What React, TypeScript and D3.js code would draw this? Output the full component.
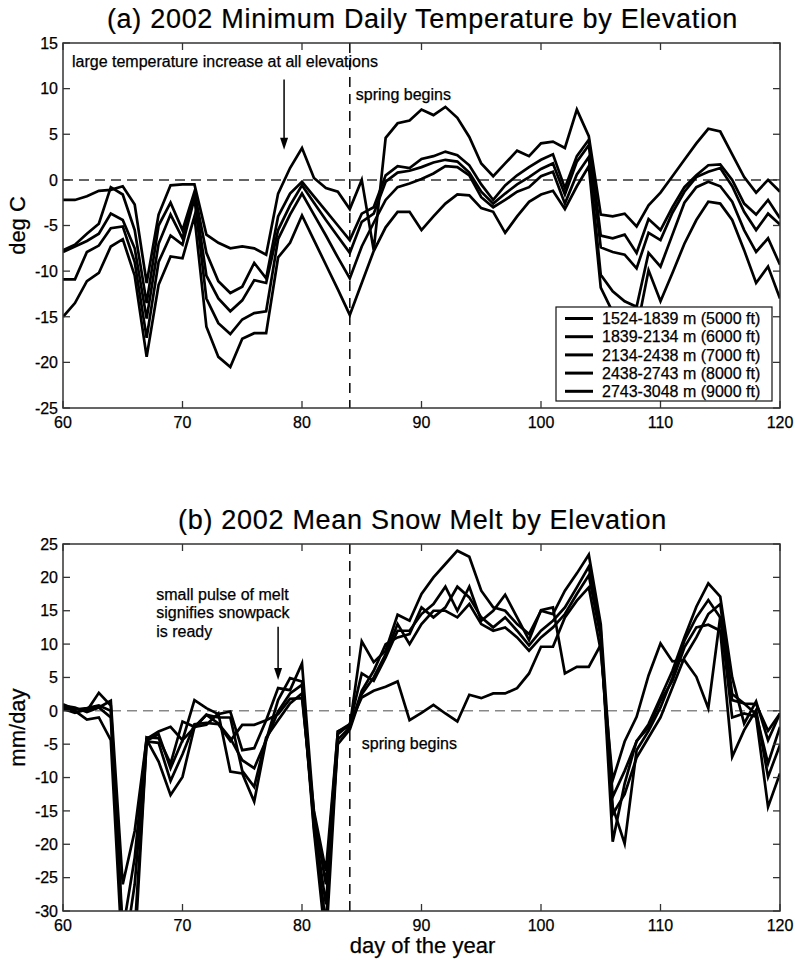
import React from 'react';
import * as d3 from 'd3';

// ---------------- DATA ----------------
const days = d3.range(60, 121); // day of the year 60..120
const xTicks = [60, 70, 80, 90, 100, 110, 120];
const tempTicks = [15, 10, 5, 0, -5, -10, -15, -20, -25];
const meltTicks = [25, 20, 15, 10, 5, 0, -5, -10, -15, -20, -25, -30];
const springDay = 84;

const elevationLabels = [
  '1524-1839 m (5000 ft)',
  '1839-2134 m (6000 ft)',
  '2134-2438 m (7000 ft)',
  '2438-2743 m (8000 ft)',
  '2743-3048 m (9000 ft)',
];

// (a) minimum daily temperature, deg C, days 60..120
const temp5000 = [-2.2, -2.2, -1.8, -1.2, -1.1, -0.7, -2.7, -11.3, -3.8, -0.6, -0.5, -0.5, -6.0, -6.9, -7.5, -7.3, -7.5, -8.2, -1.5, 1.3, 3.5, 0.2, -0.9, -1.3, -3.2, 0.0, -7.7, 4.6, 6.2, 6.5, 7.7, 7.1, 8.0, 6.8, 4.7, 1.8, 0.4, 1.8, 3.2, 2.6, 4.0, 4.2, 3.5, 7.7, 4.8, -3.8, -4.0, -3.7, -5.1, -2.8, -1.4, 0.4, 2.2, 4.0, 5.6, 5.3, 2.8, 0.3, -1.4, 0.0, -1.3];
const temp6000 = [-7.7, -7.1, -5.9, -4.8, -0.8, -1.6, -5.5, -13.5, -5.0, -2.5, -5.5, -1.3, -8.0, -11.1, -12.4, -11.7, -9.1, -10.8, -4.0, -1.5, -0.2, -1.8, -3.4, -5.0, -6.6, -3.7, -3.0, 0.5, 1.5, 1.3, 2.3, 2.6, 3.1, 2.7, 1.6, -0.5, -2.2, -0.6, 0.5, 1.4, 2.2, 2.8, -0.9, 2.6, 4.4, -6.1, -6.4, -6.0, -8.0, -4.3, -5.5, -3.0, -0.8, 0.5, 1.6, 1.7, 0.0, -2.6, -3.8, -2.2, -4.2];
const temp7000 = [-7.9, -7.3, -6.7, -5.9, -3.7, -4.4, -7.5, -15.2, -7.0, -3.8, -6.4, -1.6, -10.5, -13.0, -14.4, -13.2, -11.0, -11.3, -5.5, -2.8, -0.6, -2.5, -4.4, -6.2, -8.0, -4.6, -3.7, -0.2, 0.8, 1.0, 1.4, 1.9, 2.2, 2.0, 0.8, -1.3, -2.6, -1.5, -0.5, 0.3, 1.2, 1.8, -1.6, 2.0, 3.8, -7.4, -7.9, -8.2, -9.7, -5.8, -6.6, -3.6, -1.3, 0.3, 0.9, 1.3, -0.7, -3.5, -5.5, -3.7, -4.9];
const temp8000 = [-10.9, -10.9, -7.9, -7.2, -5.3, -5.1, -9.0, -17.3, -9.0, -6.1, -7.1, -2.0, -13.0, -15.7, -16.9, -15.3, -14.6, -14.4, -6.5, -3.8, -1.5, -3.8, -6.1, -8.5, -10.8, -7.3, -4.7, -2.2, -0.8, -0.4, 0.1, 0.7, 1.5, 1.4, 0.5, -1.9, -3.0, -2.2, -1.3, -0.8, 0.4, 0.9, -2.6, 0.6, 2.5, -10.4, -12.2, -13.3, -13.9, -8.0, -9.5, -6.0, -2.5, -0.8, -0.2, -0.7, -2.4, -5.5, -7.9, -6.4, -9.3];
const temp9000 = [-15.0, -13.5, -11.1, -10.2, -7.3, -6.5, -10.5, -19.4, -11.5, -8.4, -8.6, -4.0, -16.1, -19.4, -20.5, -17.4, -16.8, -16.8, -8.5, -6.9, -3.9, -6.6, -9.3, -12.0, -14.8, -11.3, -7.8, -5.2, -3.5, -3.5, -5.5, -4.0, -2.6, -1.6, -1.7, -3.1, -3.5, -5.8, -4.0, -2.4, -1.6, -1.2, -3.2, -0.7, 1.5, -11.8, -14.5, -15.0, -16.5, -9.9, -13.3, -10.2, -7.0, -4.4, -2.4, -2.6, -4.4, -7.7, -11.3, -9.5, -13.0];

// (b) mean snow melt, mm/day, days 60..120
const melt5000 = [0.8, 0.5, -0.2, 0.5, 1.5, -26.0, -18.0, -4.2, -3.1, -2.4, -4.4, 1.6, 0.4, -0.5, -0.1, -5.9, -5.6, -1.4, 3.4, 3.1, 7.1, -15.4, -26.0, -3.1, -2.3, 10.4, 7.3, 9.0, 14.4, 13.5, 17.5, 20.0, 22.0, 24.0, 23.1, 18.0, 15.5, 15.0, 13.0, 11.5, 15.0, 14.5, 18.0, 20.6, 23.4, 13.0, -12.9, -9.0, -4.6, -2.0, 2.0, 6.0, 11.0, 15.6, 19.1, 17.1, 5.0, -1.9, 1.4, -4.4, -0.4];
const melt6000 = [0.6, 0.3, 0.0, 2.7, 0.8, -33.0, -22.0, -4.0, -4.1, -7.9, -1.6, -2.4, -0.6, -1.9, -4.1, -7.4, -8.6, -4.4, 1.6, 4.9, 4.4, -17.4, -32.0, -3.5, -2.0, 5.6, 4.5, 8.0, 12.0, 12.0, 14.5, 16.0, 18.6, 15.0, 18.6, 13.5, 15.0, 17.4, 14.0, 10.6, 15.1, 15.5, 5.6, 6.6, 6.6, 9.9, -14.4, -19.9, -5.9, -3.0, 0.5, 5.0, 10.5, 14.0, 16.6, 14.0, -1.0, -0.4, -0.9, -14.4, -9.4];
const melt7000 = [0.5, 0.0, -1.3, -1.0, -4.4, -38.0, -26.0, -4.3, -7.6, -12.6, -9.9, -2.4, -2.1, -0.4, -9.1, -9.4, -13.6, -4.4, -0.1, 2.6, 3.9, -18.0, -35.0, -4.3, -2.5, 3.0, 6.0, 10.0, 11.0, 11.5, 15.5, 14.0, 15.5, 18.6, 17.0, 14.0, 12.5, 14.0, 12.0, 9.8, 12.0, 13.5, 15.5, 18.5, 21.6, 12.0, -19.6, -10.9, -4.5, -2.5, 1.5, 4.5, 9.5, 12.5, 12.9, 12.0, -6.9, -2.9, 0.1, -9.9, -5.1];
const melt8000 = [1.0, 0.2, 0.4, 0.8, 0.0, -36.0, -33.0, -4.5, -3.5, -8.6, -4.4, -2.5, -0.6, -1.0, -1.0, -9.0, -11.4, -4.0, -1.4, 1.1, 2.6, -16.5, -29.0, -5.0, -2.8, 2.5, 5.0, 8.5, 13.0, 10.0, 13.0, 15.0, 15.0, 14.0, 16.0, 13.0, 12.0, 12.5, 11.0, 9.0, 11.0, 12.5, 14.5, 17.5, 20.3, 11.0, -15.5, -12.5, -7.0, -4.0, -1.0, 3.5, 8.0, 11.0, 14.5, 16.0, 2.5, 1.1, -0.5, -7.9, -2.4];
const melt9000 = [0.3, -0.3, 0.2, 0.5, -1.0, -34.0, -36.0, -4.6, -4.8, -10.5, -6.5, -2.0, -1.8, -2.0, -4.5, -2.1, -2.1, -1.4, -0.5, 1.8, 1.9, -15.0, -24.0, -3.1, -2.0, 2.0, 3.0, 3.6, 4.4, -1.4, -0.3, 0.9, -0.4, -1.6, 2.4, 1.9, 2.6, 2.6, 3.4, 5.6, 9.6, 9.6, 14.0, 16.5, 18.5, 9.0, -10.4, -4.6, -0.9, 5.3, 10.1, 7.4, 7.6, 5.1, 0.4, 14.1, 1.6, 1.1, 1.0, -3.0, -0.4];

const tempSeries = [temp5000, temp6000, temp7000, temp8000, temp9000];
const meltSeries = [melt5000, melt6000, melt7000, melt8000, melt9000];

// ---------------- LAYOUT ----------------
const W = 795;
const H = 960;
const FONT = "'Liberation Sans', Arial, Helvetica, sans-serif";
const LEFT = 63;
const RIGHT = 780;
const TICK = 7;
const TXT = { fontFamily: FONT, fill: '#000', stroke: '#000', strokeWidth: 0.25 };

const x = d3.scaleLinear().domain([60, 120]).range([LEFT, RIGHT]);
const yTemp = d3.scaleLinear().domain([-25, 15]).range([408, 43]);
const yMelt = d3.scaleLinear().domain([-30, 25]).range([911, 544]);

type PanelProps = {
  id: string;
  y: d3.ScaleLinear<number, number>;
  yTicks: number[];
  series: number[][];
  title: string;
  titleY: number;
  ylabel: string;
  zeroColor: string;
};

function Panel({ id, y, yTicks, series, title, titleY, ylabel, zeroColor }: PanelProps) {
  const [yBottom, yTop] = y.range();
  const line = d3
    .line<number>()
    .x((_, i) => x(days[i]))
    .y((v) => y(v));
  return (
    <g>
      <defs>
        <clipPath id={`clip-${id}`}>
          <rect x={LEFT} y={yTop} width={RIGHT - LEFT} height={yBottom - yTop} />
        </clipPath>
      </defs>
      {/* title */}
      <text
        x={(LEFT + RIGHT) / 2 + 1}
        y={titleY}
        textAnchor="middle"
        fontSize={27}
        letterSpacing={0.7}
        {...TXT}
        strokeWidth={0.2}
      >
        {title}
      </text>
      {/* zero line */}
      <line
        x1={LEFT}
        x2={RIGHT}
        y1={y(0)}
        y2={y(0)}
        stroke={zeroColor}
        strokeWidth={1.5}
        strokeDasharray="10,6"
      />
      {/* spring begins line */}
      <line
        x1={x(springDay)}
        x2={x(springDay)}
        y1={yTop}
        y2={yBottom}
        stroke="#111"
        strokeWidth={1.6}
        strokeDasharray="10,7"
      />
      {/* data lines */}
      <g clipPath={`url(#clip-${id})`}>
        {series.map((s, i) => (
          <path
            key={i}
            d={line(s) || ''}
            fill="none"
            stroke="#000"
            strokeWidth={2.7}
            strokeLinejoin="miter"
            strokeMiterlimit={6}
          />
        ))}
      </g>
      {/* frame */}
      <rect
        x={LEFT}
        y={yTop}
        width={RIGHT - LEFT}
        height={yBottom - yTop}
        fill="none"
        stroke="#333"
        strokeWidth={1.5}
      />
      {/* x ticks */}
      {xTicks.map((t) => (
        <g key={`xt${t}`}>
          <line x1={x(t)} x2={x(t)} y1={yBottom} y2={yBottom - TICK} stroke="#333" strokeWidth={1.3} />
          <line x1={x(t)} x2={x(t)} y1={yTop} y2={yTop + TICK} stroke="#333" strokeWidth={1.3} />
          <text x={x(t)} y={yBottom + 20} textAnchor="middle" fontSize={16} {...TXT}>
            {t}
          </text>
        </g>
      ))}
      {/* y ticks */}
      {yTicks.map((t) => (
        <g key={`yt${t}`}>
          <line x1={LEFT} x2={LEFT + TICK} y1={y(t)} y2={y(t)} stroke="#333" strokeWidth={1.3} />
          <line x1={RIGHT} x2={RIGHT - TICK} y1={y(t)} y2={y(t)} stroke="#333" strokeWidth={1.3} />
          <text x={LEFT - 5} y={y(t)} dy="0.36em" textAnchor="end" fontSize={16} {...TXT}>
            {t}
          </text>
        </g>
      ))}
      {/* y label */}
      <text
        transform={`translate(25,${(yTop + yBottom) / 2}) rotate(-90)`}
        textAnchor="middle"
        fontSize={22}
        {...TXT}
      >
        {ylabel}
      </text>
    </g>
  );
}

function Arrow({ xPos, y1, y2 }: { xPos: number; y1: number; y2: number }) {
  return (
    <g>
      <line x1={xPos} x2={xPos} y1={y1} y2={y2 - 10} stroke="#000" strokeWidth={1.5} />
      <path d={`M${xPos - 4},${y2 - 12} L${xPos + 4},${y2 - 12} L${xPos},${y2} Z`} fill="#000" />
    </g>
  );
}

export default function App() {
  return (
    <svg
      width={W}
      height={H}
      viewBox={`0 0 ${W} ${H}`}
      style={{ position: 'absolute', left: 0, top: 0, background: '#fff' }}
    >
      <rect x={0} y={0} width={W} height={H} fill="#fff" />
      <Panel
        id="temp"
        y={yTemp}
        yTicks={tempTicks}
        series={tempSeries}
        title="(a) 2002 Minimum Daily Temperature by Elevation"
        titleY={28}
        ylabel="deg C"
        zeroColor="#333"
      />
      <Panel
        id="melt"
        y={yMelt}
        yTicks={meltTicks}
        series={meltSeries}
        title="(b) 2002 Mean Snow Melt by Elevation"
        titleY={529}
        ylabel="mm/day"
        zeroColor="#888"
      />

      {/* annotations panel (a) */}
      <text x={x(60.75)} y={yTemp(12.4)} fontSize={16} {...TXT}>
        large temperature increase at all elevations
      </text>
      <Arrow xPos={x(78.5)} y1={yTemp(11)} y2={yTemp(3.3)} />
      <text x={x(84.5)} y={yTemp(8.8)} fontSize={16} {...TXT}>
        spring begins
      </text>

      {/* legend panel (a) */}
      <g>
        <rect x={556} y={307} width={216} height={94} fill="#fff" stroke="#111" strokeWidth={1.2} />
        {elevationLabels.map((lab, i) => {
          const ly = 318.5 + i * 18.2;
          return (
            <g key={lab}>
              <line x1={565} x2={593} y1={ly} y2={ly} stroke="#000" strokeWidth={3} />
              <text x={602} y={ly} dy="0.36em" fontSize={16} {...TXT}>
                {lab}
              </text>
            </g>
          );
        })}
      </g>

      {/* annotations panel (b) */}
      <text fontSize={16} {...TXT}>
        <tspan x={x(67.8)} y={600}>small pulse of melt</tspan>
        <tspan x={x(67.8)} y={618.3}>signifies snowpack</tspan>
        <tspan x={x(67.8)} y={636.6}>is ready</tspan>
      </text>
      <Arrow xPos={x(78)} y1={yMelt(12.6)} y2={yMelt(4.6)} />
      <text x={x(85)} y={yMelt(-5.7)} fontSize={16} {...TXT}>
        spring begins
      </text>

      {/* x axis label */}
      <text x={(LEFT + RIGHT) / 2 + 1} y={953} textAnchor="middle" fontSize={22} {...TXT}>
        day of the year
      </text>
    </svg>
  );
}
